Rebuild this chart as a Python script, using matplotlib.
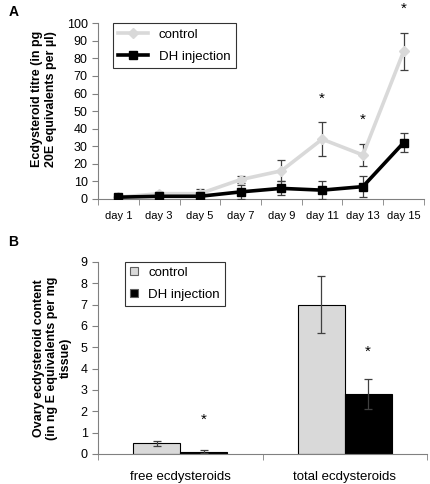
import matplotlib
matplotlib.use('Agg')

import matplotlib.pyplot as plt
import numpy as np

plt.rcParams['font.family'] = ['Liberation Sans', 'DejaVu Sans']

# Data - panel A
days = ['day 1', 'day 3', 'day 5', 'day 7', 'day 9', 'day 11', 'day 13', 'day 15']
control_titre = [1, 3, 3, 11, 16, 34, 25, 84]
control_err = [0.5, 1.0, 2.5, 2.0, 6.0, 9.5, 6.0, 10.5]
dh_titre = [1, 1.5, 1.5, 4, 6, 5, 7, 32]
dh_err = [0.5, 1.0, 1.0, 4.0, 4.0, 5.0, 6.0, 5.5]
stars_a = {5: 57, 6: 45, 7: 108}

# Data - panel B
groups = ['free ecdysteroids', 'total ecdysteroids']
control_ovary = [0.5, 7.0]
control_ovary_err = [0.12, 1.35]
dh_ovary = [0.1, 2.8]
dh_ovary_err = [0.07, 0.7]
stars_b = [1.6, 4.8]

light = '#d9d9d9'
axis_col = '#808080'
fs = 8

fig = plt.figure(figsize=(4.3, 4.84), dpi=100)

def style_axes(ax):
    for s in ['top', 'right']:
        ax.spines[s].set_visible(False)
    for s in ['left', 'bottom']:
        ax.spines[s].set_color(axis_col)
        ax.spines[s].set_linewidth(0.8)
    ax.tick_params(axis='both', colors=axis_col, labelcolor='black',
                   labelsize=fs + 1, length=4, width=0.8)

# Panel A
ax1 = fig.add_axes([0.228, 0.589, 0.758, 0.363])
x = np.arange(len(days))
ax1.errorbar(x, control_titre, yerr=control_err, fmt='none', ecolor='#404040',
             elinewidth=0.9, capsize=3, capthick=0.9, zorder=1)
ax1.plot(x, control_titre, color=light, lw=2.6, marker='D', ms=5,
         mfc=light, mec=light, label='control', zorder=2)
ax1.errorbar(x, dh_titre, yerr=dh_err, fmt='none', ecolor='#404040',
             elinewidth=0.9, capsize=3, capthick=0.9, zorder=3)
ax1.plot(x, dh_titre, color='black', lw=2.6, marker='s', ms=6,
         label='DH injection', zorder=4)
for i, v in stars_a.items():
    ax1.text(x[i], v, '*', ha='center', va='center', fontsize=11, clip_on=False)
ax1.set_xlim(-0.5, len(days) - 0.5)
ax1.set_ylim(0, 100)
ax1.set_yticks(np.arange(0, 101, 10))
ax1.set_xticks(x)
ax1.set_xticklabels(days)
ax1.set_xticks(np.arange(-0.5, len(days), 1), minor=True)
style_axes(ax1)
ax1.tick_params(axis='x', which='major', length=0, pad=9, labelsize=fs)
ax1.tick_params(axis='x', which='minor', length=4, color=axis_col)
ax1.set_ylabel('Ecdysteroid titre (in pg\n20E equivalents per µl)',
               fontsize=fs + 1, fontweight='bold')
ax1.yaxis.set_label_coords(-0.127, 0.57)
leg1 = ax1.legend(loc='upper left', bbox_to_anchor=(0.045, 1.0), fontsize=fs + 1.5,
                  frameon=True, fancybox=False, edgecolor='black', handlelength=2.3,
                  labelspacing=0.75, borderaxespad=0)
leg1.get_frame().set_linewidth(0.8)
fig.text(0.02, 0.975, 'A', fontsize=10, fontweight='bold', va='center')

# Panel B
ax2 = fig.add_axes([0.228, 0.062, 0.765, 0.397])
xb = np.arange(len(groups))
w = 0.285
ax2.bar(xb - w / 2, control_ovary, w, color=light, edgecolor='black', lw=0.8,
        yerr=control_ovary_err, capsize=3,
        error_kw=dict(elinewidth=0.9, capthick=0.9, ecolor='#404040'), label='control')
ax2.bar(xb + w / 2, dh_ovary, w, color='black', edgecolor='black', lw=0.8,
        yerr=dh_ovary_err, capsize=3,
        error_kw=dict(elinewidth=0.9, capthick=0.9, ecolor='#404040'), label='DH injection')
for i, v in enumerate(stars_b):
    ax2.text(xb[i] + w / 2, v, '*', ha='center', va='center', fontsize=11)
ax2.set_xlim(-0.5, len(groups) - 0.5)
ax2.set_ylim(0, 9)
ax2.set_yticks(np.arange(0, 10, 1))
ax2.set_xticks(xb)
ax2.set_xticklabels(groups)
ax2.set_xticks(np.arange(-0.5, len(groups), 1), minor=True)
style_axes(ax2)
ax2.tick_params(axis='x', which='major', length=0, pad=12, labelsize=fs + 1.5)
ax2.tick_params(axis='x', which='minor', length=4, color=axis_col)
ax2.set_ylabel('Ovary ecdysteroid content\n(in ng E equivalents per mg\ntissue)',
               fontsize=fs + 1, fontweight='bold', labelpad=6)
leg2 = ax2.legend(loc='upper left', bbox_to_anchor=(0.082, 1.0), fontsize=fs + 1.5,
                  frameon=True, fancybox=False, edgecolor='black', handlelength=0.55,
                  handleheight=0.55, labelspacing=0.75, borderaxespad=0)
leg2.get_frame().set_linewidth(0.8)
for h in leg2.legend_handles:
    h.set_edgecolor('#606060')
fig.text(0.02, 0.5, 'B', fontsize=10, fontweight='bold', va='center')

fig.savefig('out.png', dpi=100)
